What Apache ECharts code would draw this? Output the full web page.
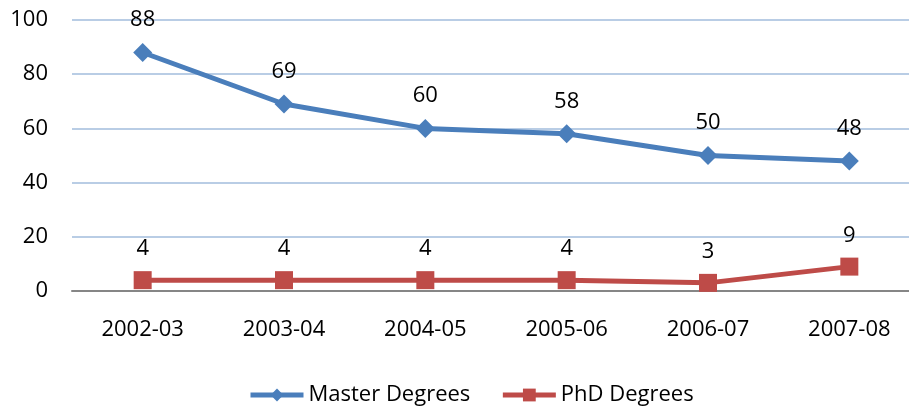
<!DOCTYPE html>
<html><head><meta charset="utf-8">
<script src="https://cdn.jsdelivr.net/npm/echarts@6/dist/echarts.min.js"></script>
<style>html,body{margin:0;padding:0;background:#fff}#c{width:909px;height:407px}</style>
</head><body><div id="c"></div>
<script>
const categories = ['2002-03','2003-04','2004-05','2005-06','2006-07','2007-08'];
const masterDegrees = [88, 69, 60, 58, 50, 48];
const phdDegrees = [4, 4, 4, 4, 3, 9];
const yTicks = [0, 20, 40, 60, 80, 100];

const font = 'Open Sans, Liberation Sans, sans-serif';
const chart = echarts.init(document.getElementById('c'));
chart.setOption({
  animation: false,
  textStyle: {fontFamily: font},
  grid: {left: 72, top: 20, width: 848, height: 271, containLabel: false, outerBoundsMode: 'none'},
  legend: {
    top: 379, left: 243, itemWidth: 53, itemHeight: 16, itemGap: 30, symbolSize: 17,
    textStyle: {fontSize: 22, color: '#000', fontFamily: font},
    data: [
      {name: 'Master Degrees', lineStyle: {width: 5, color: '#4a7ebb'}},
      {name: 'PhD Degrees', lineStyle: {width: 5, color: '#be4b48'}}
    ]
  },
  xAxis: {
    type: 'category', data: categories, boundaryGap: true,
    axisLine: {lineStyle: {color: '#868686', width: 2}},
    axisTick: {show: false},
    axisLabel: {fontSize: 22, color: '#000', margin: 28, fontFamily: font}
  },
  yAxis: {
    type: 'value', min: 0, max: 100, interval: 20,
    axisLine: {show: false}, axisTick: {show: false},
    axisLabel: {fontSize: 22, color: '#000', margin: 24, fontFamily: font,
      formatter: v => yTicks.includes(v) ? String(v) : ''},
    splitLine: {lineStyle: {color: '#b9cde5', width: 2}}
  },
  series: [
    {name: 'Master Degrees', type: 'line', data: masterDegrees,
     symbol: 'diamond', symbolSize: 19,
     lineStyle: {color: '#4a7ebb', width: 5}, itemStyle: {color: '#4a7ebb'},
     label: {show: true, position: 'top', distance: 12, fontSize: 22, color: '#000', fontFamily: font}},
    {name: 'PhD Degrees', type: 'line', data: phdDegrees,
     symbol: 'rect', symbolSize: 18,
     lineStyle: {color: '#be4b48', width: 5}, itemStyle: {color: '#be4b48'},
     label: {show: true, position: 'top', distance: 11, fontSize: 22, color: '#000', fontFamily: font}}
  ]
});
</script></body></html>
